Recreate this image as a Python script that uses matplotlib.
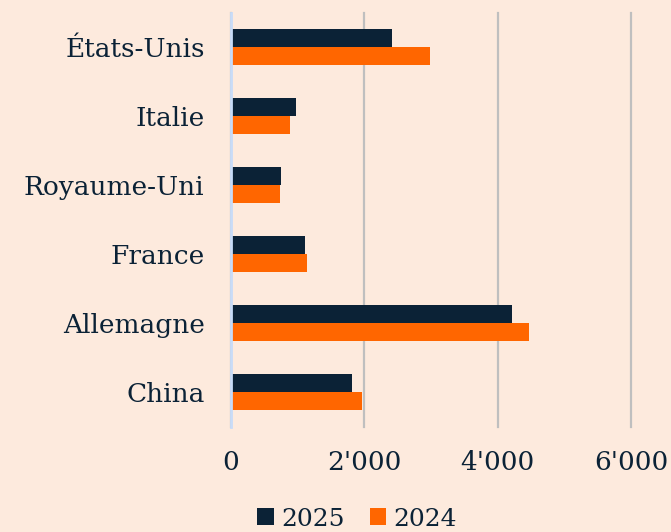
import matplotlib
matplotlib.use("Agg")
import matplotlib.pyplot as plt
import numpy as np

categories = ["États-Unis", "Italie", "Royaume-Uni", "France", "Allemagne", "China"]
values_2025 = [2420, 970, 745, 1110, 4215, 1815]
values_2024 = [2980, 890, 735, 1135, 4470, 1965]
xticks = [0, 2000, 4000, 6000]
xtick_labels = ["0", "2'000", "4'000", "6'000"]

bg = "#FDEADD"
navy = "#0B2236"
orange = "#FF6600"

plt.rcParams['font.family'] = ['DejaVu Serif']

W, H = 671, 532
fig = plt.figure(figsize=(W/100, H/100), dpi=100, facecolor=bg)
ax = fig.add_axes([231/W, 1-426.5/H, 400/W, (426.5-12.5)/H])
ax.set_facecolor(bg)

y = np.arange(len(categories))
h = 0.265
ax.barh(y - h/2, values_2025, height=h, color=navy, label="2025", zorder=3)
ax.barh(y + h/2, values_2024, height=h, color=orange, label="2024", zorder=3)

ax.set_ylim(len(categories) - 0.5, -0.5)
ax.set_xlim(0, 6000)
ax.set_yticks(y)
ax.set_yticklabels(categories, fontsize=19, color=navy)
ax.set_xticks(xticks)
ax.set_xticklabels(xtick_labels, fontsize=19, color=navy)
ax.tick_params(axis='both', length=0)
ax.tick_params(axis='y', pad=19)
ax.tick_params(axis='x', pad=17)

for s in ['top', 'right', 'bottom']:
    ax.spines[s].set_visible(False)
ax.spines['left'].set_color('#C8DCF8')
ax.spines['left'].set_linewidth(2)
ax.spines['left'].set_zorder(4)

ax.xaxis.grid(True, color='#BFBFBF', linewidth=1.6, zorder=0)
ax.set_axisbelow(True)
for line in ax.get_xgridlines():
    line.set_clip_on(False)

leg = fig.legend(loc='center', bbox_to_anchor=(357/W, 1-519/H), ncol=2, frameon=False,
                 fontsize=18, handlelength=0.65, handleheight=0.65, handletextpad=0.3,
                 columnspacing=1.0, labelcolor=navy)

fig.savefig("out.png", dpi=100, facecolor=bg)
